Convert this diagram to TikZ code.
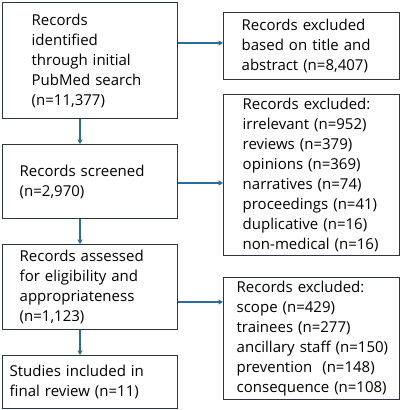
\documentclass[tikz,border=0pt]{standalone}
\usepackage{fontspec}
\setmainfont{Open Sans}
\usetikzlibrary{arrows.meta}
\definecolor{boxline}{HTML}{2B3645}
\definecolor{arrowc}{HTML}{2A6D99}
\newcommand\padtext[2]{\leftskip=#1pt\relax #2\par}
\begin{document}
\begin{tikzpicture}[x=1pt,y=-1pt,
  box/.style={draw=boxline,line width=1.4pt,rectangle,anchor=north west,
    align=left,inner xsep=0pt,inner ysep=0pt,
    font=\fontsize{15}{20}\selectfont},
  lbox/.style={box,text width=175pt,minimum width=175pt},
  rbox/.style={box,text width=176pt,minimum width=176pt},
  conn/.style={draw=arrowc,line width=1.2pt,-{Triangle[length=4.5pt,width=5pt]}}]
\useasboundingbox (0,0) rectangle (400,410);
% left column
\node[lbox,minimum height=116pt] (b1) at (2,2)
  {\padtext{29}{Records\\identified\\through initial\\PubMed search\\(n=11,377)}};
\node[lbox,minimum height=74pt] (b2) at (2,144)
  {\padtext{17}{Records screened\\(n=2,970)}};
\node[lbox,minimum height=85pt] (b3) at (2,244)
  {\padtext{17}{Records assessed\\for eligibility and\\appropriateness\\(n=1,123)}};
\node[lbox,minimum height=53pt] (b4) at (2,355)
  {\padtext{7}{Studies included in\\final review (n=11)}};
% right column
\node[rbox,minimum height=67pt] (rA) at (223,12)
  {\padtext{18}{Records excluded\\based on title and\\abstract (n=8,407)}};
\node[rbox,minimum height=161pt] (rB) at (223,94)
  {\padtext{19}{Records excluded:\\irrelevant (n=952)\\reviews (n=379)\\opinions (n=369)\\narratives (n=74)\\proceedings (n=41)\\duplicative (n=16)\\non-medical (n=16)}};
\node[rbox,minimum height=122pt] (rC) at (223,277)
  {\padtext{13}{Records excluded:\\scope (n=429)\\trainees (n=277)\\ancillary staff (n=150)\\prevention~ (n=148)\\consequence (n=108)}};
% connectors
\coordinate (v1) at (80,0);
\draw[conn] (b1.south -| v1) -- (b2.north -| v1);
\draw[conn] (b2.south -| v1) -- (b3.north -| v1);
\draw[conn] (b3.south -| v1) -- (b4.north -| v1);
\draw[conn] (b1.east |- 0,43) -- (rA.west |- 0,43);
\draw[conn] (b2.east |- 0,183) -- (rB.west |- 0,183);
\draw[conn] (b3.east |- 0,302) -- (rC.west |- 0,302);
\end{tikzpicture}
\end{document}
